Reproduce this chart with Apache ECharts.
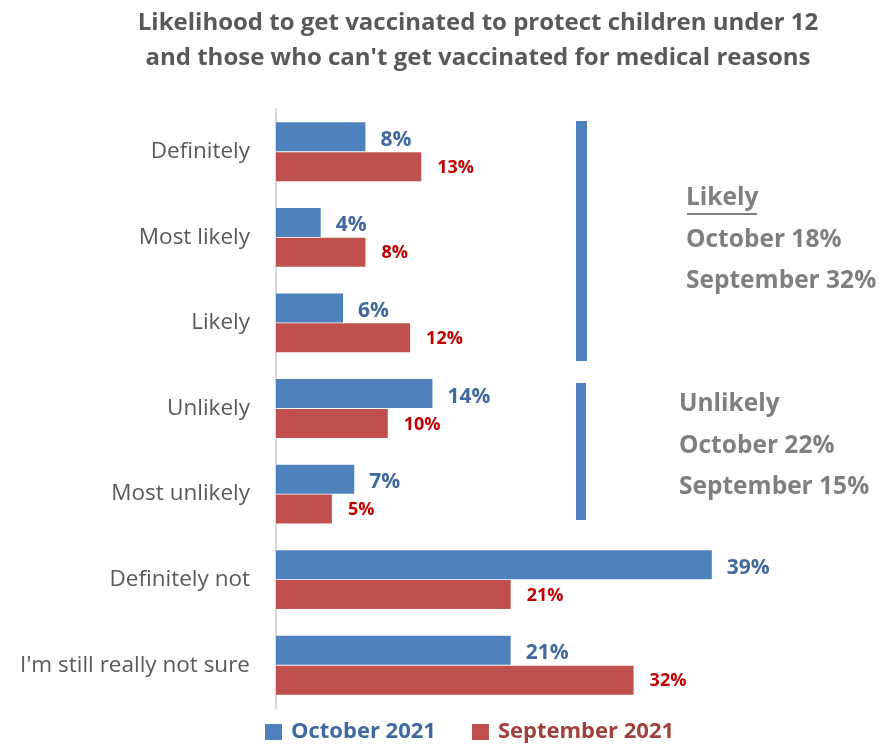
<!DOCTYPE html>
<html>
<head>
<meta charset="utf-8">
<script src="https://cdn.jsdelivr.net/npm/echarts@6/dist/echarts.min.js"></script>
<style>
  html, body { margin: 0; padding: 0; background: #fff; }
  #chart { width: 882px; height: 744px; }
</style>
</head>
<body>
<div id="chart"></div>
<script>
// Survey answers, top to bottom
const categories = [
  'Definitely', 'Most likely', 'Likely', 'Unlikely',
  'Most unlikely', 'Definitely not', "I'm still really not sure"
];
const october2021 = [8, 4, 6, 14, 7, 39, 21];
const september2021 = [13, 8, 12, 10, 5, 21, 32];

// Grouped totals shown beside the brackets
const likelyGroup = ['Likely', 'October 18%', 'September 32%'];
const unlikelyGroup = ['Unlikely', 'October 22%', 'September 15%'];

const FONT = '"Open Sans", Lato, sans-serif';
const BLUE = '#4f81bd';
const RED = '#c0504d';
const GREY = '#7f7f7f';

const chart = echarts.init(document.getElementById('chart'));

function noteText(x, y, text) {
  return {
    type: 'text', left: x, top: y,
    style: { text: text, fill: GREY, font: 'bold 24.5px ' + FONT }
  };
}

const graphics = [
  // bracket bars
  { type: 'rect', shape: { x: 576, y: 121, width: 11, height: 240 }, style: { fill: BLUE } },
  { type: 'rect', shape: { x: 576, y: 383, width: 10, height: 137 }, style: { fill: BLUE } },
  // underline below the "Likely" heading
  { type: 'line', shape: { x1: 687, y1: 214, x2: 757, y2: 214 }, style: { stroke: GREY, lineWidth: 2 } }
];
likelyGroup.forEach((t, i) => graphics.push(noteText(686, 186 + i * 41.5, t)));
unlikelyGroup.forEach((t, i) => graphics.push(noteText(679, 392 + i * 41.5, t)));

chart.setOption({
  animation: false,
  backgroundColor: '#ffffff',
  title: {
    text: 'Likelihood to get vaccinated to protect children under 12\nand those who can\'t get vaccinated for medical reasons',
    left: 473, top: 1, textAlign: 'center',
    textStyle: { color: '#595959', fontFamily: FONT, fontWeight: 'bold', fontSize: 24, lineHeight: 35 }
  },
  legend: {
    top: 716, left: 260,
    itemWidth: 17, itemHeight: 16, itemGap: 36,
    icon: 'rect',
    data: [
      { name: 'October 2021', textStyle: { color: '#41699f' } },
      { name: 'September 2021', textStyle: { color: '#a0403c' } }
    ],
    textStyle: { fontFamily: FONT, fontWeight: 'bold', fontSize: 22, padding: [0, 0, 0, 4] }
  },
  grid: { left: 276, top: 109, width: 447, height: 599, containLabel: false },
  xAxis: {
    type: 'value', min: 0, max: 40, show: false
  },
  yAxis: {
    type: 'category', data: categories, inverse: true,
    axisLine: { show: true, lineStyle: { color: '#d9d9d9', width: 2 } },
    axisTick: { show: false },
    axisLabel: { color: '#595959', fontFamily: FONT, fontSize: 22.5, margin: 26 }
  },
  series: [
    {
      name: 'October 2021', type: 'bar', data: october2021,
      barWidth: 29, barGap: '3%',
      itemStyle: { color: BLUE },
      label: {
        show: true, position: 'right', distance: 15, formatter: '{c}%',
        color: '#41699f', fontFamily: FONT, fontWeight: 'bold', fontSize: 21, offset: [0, 3]
      }
    },
    {
      name: 'September 2021', type: 'bar', data: september2021,
      barWidth: 29,
      itemStyle: { color: RED },
      label: {
        show: true, position: 'right', distance: 16, formatter: '{c}%',
        color: '#c00000', fontFamily: FONT, fontWeight: 'bold', fontSize: 18, offset: [0, 1]
      }
    }
  ],
  graphic: graphics
});
</script>
</body>
</html>
